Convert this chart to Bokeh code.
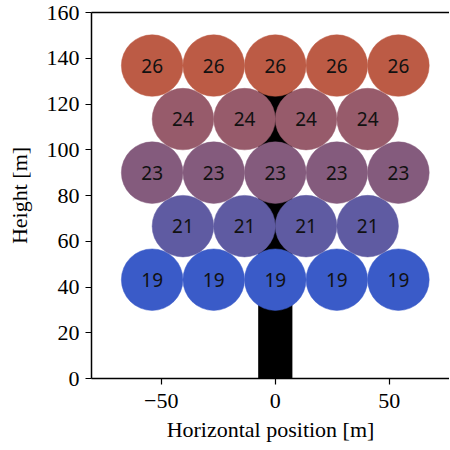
import numpy as np
from bokeh.plotting import figure
from bokeh.models import Range1d, LinearAxis, LinearColorMapper, ColumnDataSource, FixedTicker
from bokeh.core.properties import value
from bokeh.embed import file_html
from bokeh.resources import INLINE

# Sensor positions (m) and measured values, row by row (bottom to top)
row_heights = [43.2, 66.6, 90.0, 113.4, 136.8]
row_x = [
    [-54, -27, 0, 27, 54],
    [-40.5, -13.5, 13.5, 40.5],
    [-54, -27, 0, 27, 54],
    [-40.5, -13.5, 13.5, 40.5],
    [-54, -27, 0, 27, 54],
]
row_values = [19, 21, 23, 24, 26]
tower_half_width = 7.5
tower_top = 136.8
sensor_radius = 13.5
x_ticks = [-50, 0, 50]
y_ticks = [0, 20, 40, 60, 80, 100, 120, 140, 160]

xs, ys, vals = [], [], []
for h, xr, v in zip(row_heights, row_x, row_values):
    for x in xr:
        xs.append(x)
        ys.append(h)
        vals.append(v)

src = ColumnDataSource(dict(x=xs, y=ys, v=vals, label=[str(v) for v in vals]))

# Blue -> red palette
c0 = np.array([0x3A, 0x5B, 0xC8])
c1 = np.array([0xBC, 0x5B, 0x45])
palette = ["#%02x%02x%02x" % tuple(int(round(a)) for a in (c0 + (c1 - c0) * t)) for t in np.linspace(0, 1, 256)]
mapper = LinearColorMapper(palette=palette, low=19, high=26)

p = figure(width=449, height=446, output_backend="svg", toolbar_location=None,
           x_range=Range1d(-80.6, 76.4), y_range=Range1d(0, 160),
           min_border_left=91, min_border_top=12, min_border_right=0, min_border_bottom=68)
p.outline_line_color = None
p.grid.visible = False
p.background_fill_color = "white"

p.quad(left=[-tower_half_width], right=[tower_half_width], bottom=[0], top=[tower_top],
       fill_color="black", line_color=None)
p.circle(x="x", y="y", radius=sensor_radius, source=src,
         fill_color={"field": "v", "transform": mapper},
         line_color={"field": "v", "transform": mapper}, line_width=0.5)
p.text(x="x", y="y", text="label", source=src, text_align="center", text_baseline="middle",
       text_font=value("Noto Sans"), text_font_size="19px", text_color="#111111")

bottom_axis = p.below[0]
left_axis = p.left[0]

top_axis = LinearAxis(major_tick_line_color=None, minor_tick_line_color=None,
                      major_label_text_font_size="0px", axis_line_width=1.5,
                      major_label_standoff=0, ticker=FixedTicker(ticks=[]))
p.add_layout(top_axis, "above")

for ax in (bottom_axis, left_axis):
    ax.minor_tick_line_color = None
    ax.major_tick_out = 6
    ax.major_tick_in = 0
    ax.axis_line_width = 1.5
    ax.major_tick_line_width = 1.2
    ax.major_label_text_font = "Liberation Serif"
    ax.major_label_text_font_size = "22px"
    ax.major_label_text_color = "black"
    ax.major_label_standoff = 6
    ax.axis_label_text_font = "Liberation Serif"
    ax.axis_label_text_font_size = "22px"
    ax.axis_label_text_font_style = "normal"
    ax.axis_label_text_color = "black"

bottom_axis.major_label_standoff = 9
bottom_axis.ticker = FixedTicker(ticks=x_ticks)
bottom_axis.major_label_overrides = {-50: "\u221250", 0: "0", 50: "50"}
left_axis.ticker = FixedTicker(ticks=y_ticks)
bottom_axis.axis_label = "Horizontal position [m]"
left_axis.axis_label = "Height [m]"
bottom_axis.axis_label_standoff = 6
left_axis.axis_label_standoff = 12

open("out.html", "w").write(file_html(p, INLINE))
